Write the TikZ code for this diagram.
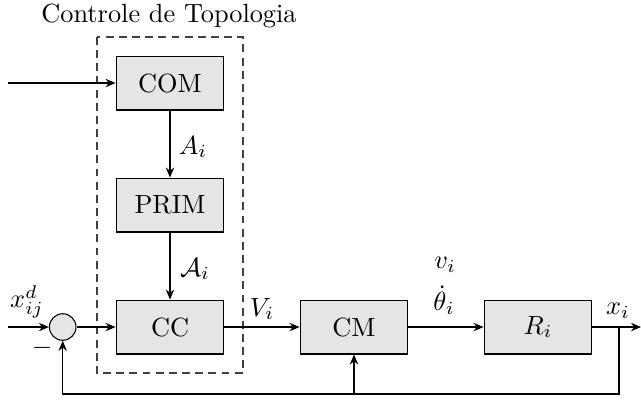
\documentclass[tikz,border=0pt]{standalone}
\usetikzlibrary{arrows.meta}
\begin{document}
\begin{tikzpicture}[x=0.38pt,y=-0.38pt,line width=0.4pt,
  blk/.style={draw,fill=gray!20,minimum width=41pt,minimum height=20.5pt,inner sep=0pt},
  sumnode/.style={draw,circle,fill=gray!20,minimum size=10.1pt,inner sep=0pt},
  sig/.style={-{Stealth[length=3.8pt,width=3.2pt]}},
  lbl/.style={inner sep=0.5pt},
  frame/.style={draw=black!75,dash pattern=on 3pt off 2pt}]
\useasboundingbox (0,0) rectangle (641,399);

% topology control group
\node[anchor=base] (title) at (169,22) {Controle de Topologia};
\draw[frame] (97,37) rectangle (243,373);

% blocks
\node[blk] (com) at (170,83) {COM};
\node[blk] (prim) at (170,205) {PRIM};
\node[blk] (cc) at (170,327) {CC};
\node[blk] (cm) at (354,327) {CM};
\node[blk] (r) at (538,327) {$R_i$};
\node[sumnode] (sum) at (62.7,327) {};

% free ends
\coordinate (comin) at (8,83);
\coordinate (refin) at (8,327);
\coordinate (out) at (641,327);
\coordinate (tap) at (619,327);
\coordinate (fbR) at (619,394);
\coordinate (fbC) at (354,394);
\coordinate (fbL) at (62.7,394);

% forward path
\draw[sig] (comin) -- (com);
\draw[sig] (com) -- (prim);
\draw[sig] (prim) -- (cc);
\draw[sig] (refin) -- (sum);
\draw[sig] (sum) -- (cc);
\draw[sig] (cc) -- (cm);
\draw[sig] (cm) -- (r);
\draw[sig] (r) -- (out);

% feedback
\draw[sig] (tap) -- (fbR) -- (fbL) -- (sum);
\draw[sig] (fbC) -- (cm);

% labels
\node[lbl] (la) at (193,147) {$A_i$};
\node[lbl] (lca) at (195,269) {$\mathcal{A}_i$};
\node[lbl] (lx) at (27,302) {$x_{ij}^d$};
\node[lbl] (lm) at (42,348) {$-$};
\node[lbl] (lv) at (262,309) {$V_i$};
\node[lbl] (lvi) at (445,265) {$v_i$};
\node[lbl] (lth) at (444,300) {$\dot{\theta}_i$};
\node[lbl] (lxi) at (618,311) {$x_i$};
\end{tikzpicture}
\end{document}
